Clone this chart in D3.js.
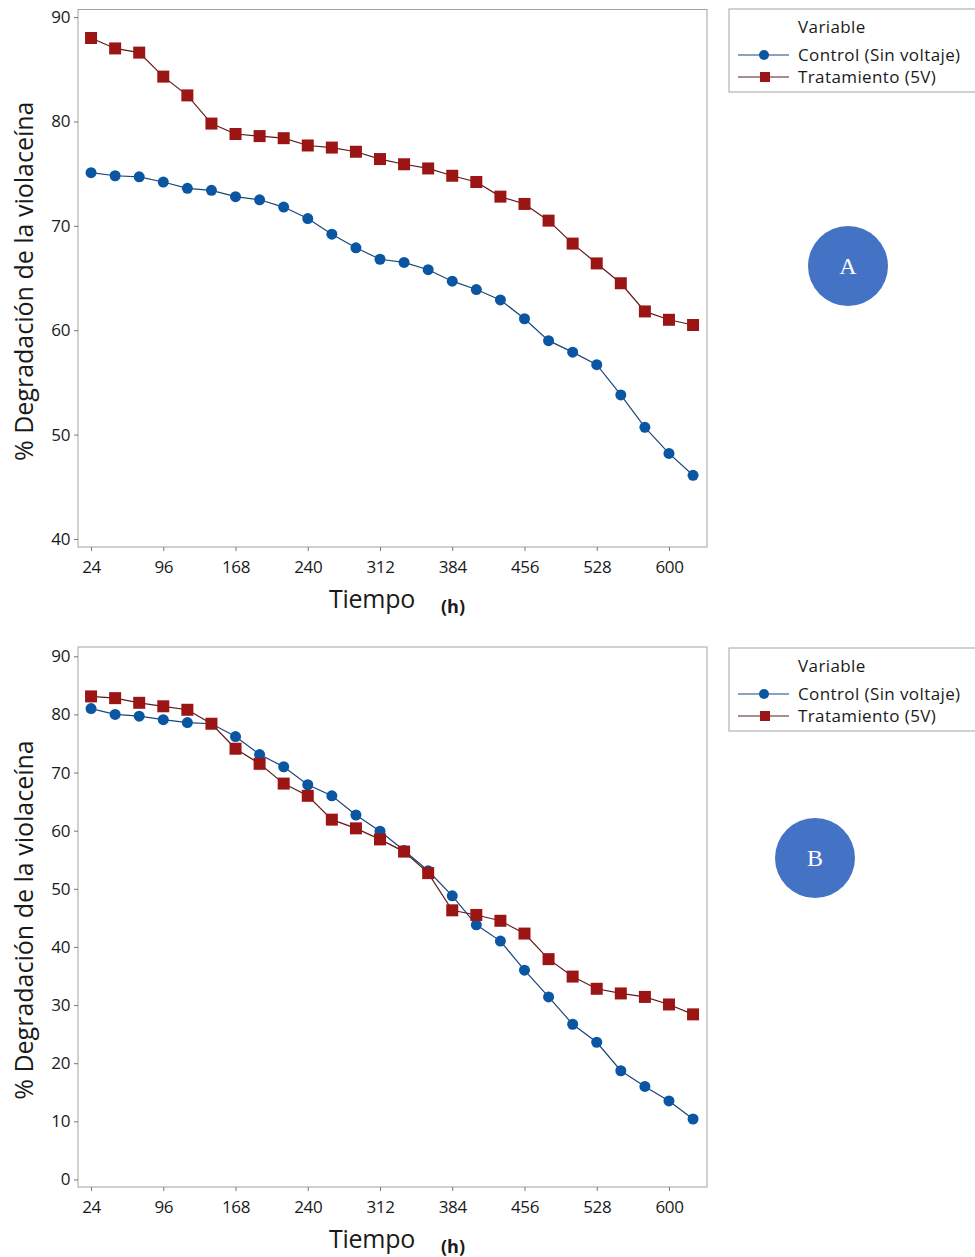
<!DOCTYPE html>
<html>
<head>
<meta charset="utf-8">
<script src="https://cdn.jsdelivr.net/npm/d3@7"></script>
<style>
  body { margin: 0; background: #fff; }
  svg { display: block; font-family: "Open Sans", "Noto Sans", sans-serif; }
</style>
</head>
<body>
<svg id="chart" width="975" height="1257"></svg>
<script>
// tiempo en horas (cada 24 h)
const hours = [24, 48, 72, 96, 120, 144, 168, 192, 216, 240, 264, 288, 312,
               336, 360, 384, 408, 432, 456, 480, 504, 528, 552, 576, 600, 624];

// panel A
const controlA = [75.1, 74.8, 74.7, 74.2, 73.6, 73.4, 72.8, 72.5, 71.8, 70.7, 69.2, 67.9, 66.8,
                  66.5, 65.8, 64.7, 63.9, 62.9, 61.1, 59.0, 57.9, 56.7, 53.8, 50.7, 48.2, 46.1];
const tratA = [88.0, 87.0, 86.6, 84.3, 82.5, 79.8, 78.8, 78.6, 78.4, 77.7, 77.5, 77.1, 76.4,
               75.9, 75.5, 74.8, 74.2, 72.8, 72.1, 70.5, 68.3, 66.4, 64.5, 61.8, 61.0, 60.5];

// panel B
const controlB = [81.0, 80.0, 79.7, 79.1, 78.6, 78.4, 76.2, 73.1, 71.0, 67.9, 66.0, 62.7, 59.9,
                  56.6, 53.1, 48.8, 43.8, 41.0, 36.0, 31.4, 26.7, 23.6, 18.7, 16.0, 13.5, 10.4];
const tratB = [83.1, 82.8, 82.0, 81.4, 80.8, 78.4, 74.1, 71.5, 68.1, 66.0, 61.9, 60.4, 58.5,
               56.4, 52.7, 46.3, 45.5, 44.5, 42.3, 37.9, 34.9, 32.8, 32.0, 31.4, 30.1, 28.4];

const xTicks = [24, 96, 168, 240, 312, 384, 456, 528, 600];
const yTicksA = [40, 50, 60, 70, 80, 90];
const yTicksB = [0, 10, 20, 30, 40, 50, 60, 70, 80, 90];

const seriesNames = ["Control (Sin voltaje)", "Tratamiento (5V)"];
const legendTitle = "Variable";
const yTitle = "% Degradación de la violaceína";

const svg = d3.select("#chart");

const blueFill = "#0a56a3", blueLine = "#1b4678";
const redFill = "#9c1515", redLine = "#5e1a1a";
const frameColor = "#a3a3a3";
const textColor = "#1a1a1a";

function drawPanel(p) {
    const g = svg.append("g");

    const x = d3.scaleLinear().domain([11, 637.9]).range([78, 707]);
    const y = d3.scaleLinear().domain(p.yDomain).range([p.bottom, p.top]);

    // marco
    g.append("rect")
        .attr("x", 78).attr("y", p.top)
        .attr("width", 707 - 78).attr("height", p.bottom - p.top)
        .attr("fill", "none").attr("stroke", frameColor).attr("stroke-width", 1);

    // ejes
    const yAxis = g.append("g")
        .attr("transform", "translate(78,0)")
        .call(d3.axisLeft(y).tickValues(p.yTicks).tickSize(4).tickPadding(4));
    const xAxis = g.append("g")
        .attr("transform", `translate(0,${p.bottom})`)
        .call(d3.axisBottom(x).tickValues(xTicks).tickSize(4).tickPadding(10));

    [yAxis, xAxis].forEach(a => {
        a.select(".domain").remove();
        a.selectAll(".tick line").attr("stroke", "#777");
        a.selectAll(".tick text")
            .attr("fill", textColor)
            .style("font-size", "17px")
            .style("letter-spacing", "-0.4px")
            .style("font-family", "'Open Sans', sans-serif");
    });

    const line = d3.line()
        .x((d, i) => x(hours[i]))
        .y(d => y(d));

    // control
    g.append("path").datum(p.control)
        .attr("d", line).attr("fill", "none")
        .attr("stroke", blueLine).attr("stroke-width", 1.2);
    g.append("g").selectAll("circle")
        .data(p.control).enter()
        .append("circle")
        .attr("cx", (d, i) => x(hours[i]))
        .attr("cy", d => y(d))
        .attr("r", 5.5)
        .attr("fill", blueFill);

    // tratamiento
    g.append("path").datum(p.trat)
        .attr("d", line).attr("fill", "none")
        .attr("stroke", redLine).attr("stroke-width", 1.2);
    g.append("g").selectAll("rect")
        .data(p.trat).enter()
        .append("rect")
        .attr("x", (d, i) => x(hours[i]) - 6)
        .attr("y", d => y(d) - 6)
        .attr("width", 12).attr("height", 12)
        .attr("fill", redFill);

    // titulo eje y
    const yMid = (p.top + p.bottom) / 2 + 3;
    g.append("text")
        .attr("transform", `translate(33,${yMid}) rotate(-90)`)
        .attr("text-anchor", "middle")
        .style("font-size", "25px")
        .attr("fill", textColor)
        .text(yTitle);

    // titulo eje x
    g.append("text")
        .attr("x", 372).attr("y", p.bottom + 61)
        .attr("text-anchor", "middle")
        .style("font-size", "25px")
        .style("letter-spacing", "-0.3px")
        .attr("fill", textColor)
        .text("Tiempo");
    g.append("text")
        .attr("x", 453).attr("y", p.bottom + 66)
        .attr("text-anchor", "middle")
        .style("font-size", "18px")
        .style("font-weight", "bold")
        .attr("fill", textColor)
        .text("(h)");

    // leyenda
    const lg = g.append("g").attr("transform", `translate(729,${p.legendTop})`);
    lg.append("rect")
        .attr("x", 0).attr("y", 0)
        .attr("width", 260).attr("height", 83)
        .attr("fill", "#fff").attr("stroke", frameColor);
    lg.append("text")
        .attr("x", 69).attr("y", 24)
        .style("font-size", "17px")
        .style("letter-spacing", "0.4px")
        .attr("fill", textColor)
        .text(legendTitle);
    const rows = [
        { name: seriesNames[0], line: blueLine, fill: blueFill, shape: "circle", cy: 46 },
        { name: seriesNames[1], line: redLine, fill: redFill, shape: "square", cy: 68 }
    ];
    rows.forEach(r => {
        lg.append("line")
            .attr("x1", 9).attr("x2", 60)
            .attr("y1", r.cy).attr("y2", r.cy)
            .attr("stroke", r.line).attr("stroke-width", 1.2);
        if (r.shape === "circle") {
            lg.append("circle").attr("cx", 35).attr("cy", r.cy).attr("r", 5).attr("fill", r.fill);
        } else {
            lg.append("rect").attr("x", 31).attr("y", r.cy - 5)
                .attr("width", 10).attr("height", 10).attr("fill", r.fill);
        }
        lg.append("text")
            .attr("x", 69).attr("y", r.cy + 6)
            .style("font-size", "17px")
            .style("letter-spacing", "0.4px")
            .attr("fill", textColor)
            .text(r.name);
    });

    // etiqueta del panel
    g.append("circle")
        .attr("cx", p.badge[0]).attr("cy", p.badge[1]).attr("r", 40)
        .attr("fill", "#4472c4");
    g.append("text")
        .attr("x", p.badge[0]).attr("y", p.badge[1] + 8)
        .attr("text-anchor", "middle")
        .style("font-family", "'Liberation Serif', 'DejaVu Serif', serif")
        .style("font-size", "24px")
        .attr("fill", "#fff")
        .text(p.label);
}

drawPanel({
    top: 9.5, bottom: 547, yDomain: [39.23, 90.73], yTicks: yTicksA,
    control: controlA, trat: tratA, legendTop: 9, badge: [848, 266], label: "A"
});

drawPanel({
    top: 647, bottom: 1187, yDomain: [-1.3, 91.6], yTicks: yTicksB,
    control: controlB, trat: tratB, legendTop: 648, badge: [815, 858], label: "B"
});
</script>
</body>
</html>
